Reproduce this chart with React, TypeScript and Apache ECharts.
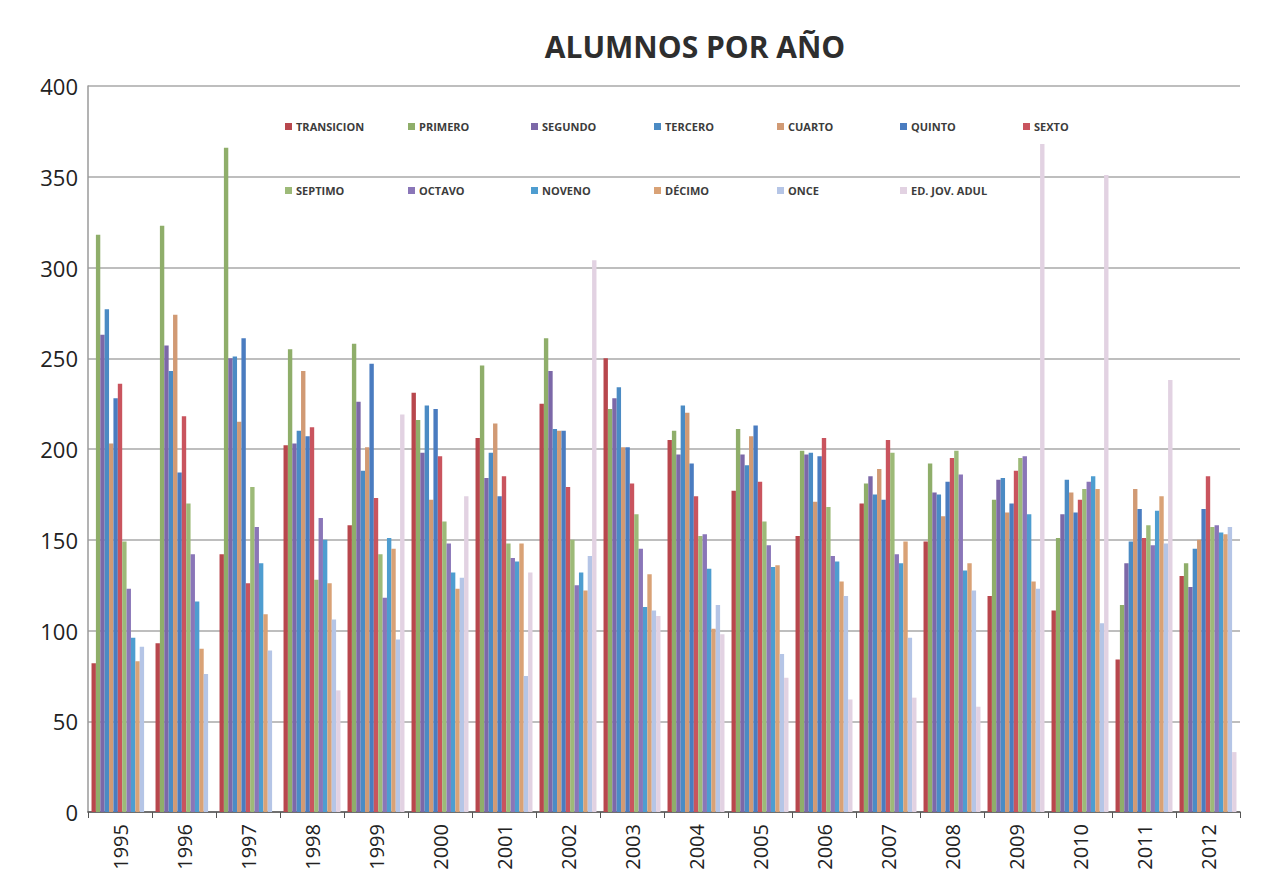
import React, { useEffect, useRef } from "react";
import * as echarts from "echarts";

// Years on the category axis
const years = [
  "1995", "1996", "1997", "1998", "1999", "2000", "2001", "2002", "2003",
  "2004", "2005", "2006", "2007", "2008", "2009", "2010", "2011", "2012",
];

// Students per grade, one value per year
const transicion = [82, 93, 142, 202, 158, 231, 206, 225, 250, 205, 177, 152, 170, 149, 119, 111, 84, 130];
const primero = [318, 323, 366, 255, 258, 216, 246, 261, 222, 210, 211, 199, 181, 192, 172, 151, 114, 137];
const segundo = [263, 257, 250, 203, 226, 198, 184, 243, 228, 197, 197, 197, 185, 176, 183, 164, 137, 124];
const tercero = [277, 243, 251, 210, 188, 224, 198, 211, 234, 224, 191, 198, 175, 175, 184, 183, 149, 145];
const cuarto = [203, 274, 215, 243, 201, 172, 214, 210, 201, 220, 207, 171, 189, 163, 165, 176, 178, 150];
const quinto = [228, 187, 261, 207, 247, 222, 174, 210, 201, 192, 213, 196, 172, 182, 170, 165, 167, 167];
const sexto = [236, 218, 126, 212, 173, 196, 185, 179, 181, 174, 182, 206, 205, 195, 188, 172, 151, 185];
const septimo = [149, 170, 179, 128, 142, 160, 148, 150, 164, 152, 160, 168, 198, 199, 195, 178, 158, 157];
const octavo = [123, 142, 157, 162, 118, 148, 140, 125, 145, 153, 147, 141, 142, 186, 196, 182, 147, 158];
const noveno = [96, 116, 137, 150, 151, 132, 138, 132, 113, 134, 135, 138, 137, 133, 164, 185, 166, 154];
const decimo = [83, 90, 109, 126, 145, 123, 148, 122, 131, 101, 136, 127, 149, 137, 127, 178, 174, 153];
const once = [91, 76, 89, 106, 95, 129, 75, 141, 111, 114, 87, 119, 96, 122, 123, 104, 148, 157];
const edJovAdul = [0, 0, 0, 67, 219, 174, 132, 304, 108, 98, 74, 62, 63, 58, 368, 351, 238, 33];

const seriesNames = [
  "TRANSICION", "PRIMERO", "SEGUNDO", "TERCERO", "CUARTO", "QUINTO", "SEXTO",
  "SEPTIMO", "OCTAVO", "NOVENO", "DÉCIMO", "ONCE", "ED. JOV. ADUL",
];
const seriesValues = [
  transicion, primero, segundo, tercero, cuarto, quinto, sexto,
  septimo, octavo, noveno, decimo, once, edJovAdul,
];
const seriesColors = [
  "#B8474D", "#8FAE6A", "#7C68A8", "#4B8BC4", "#D19A74", "#4A7CC0", "#C9545E",
  "#9DBA78", "#8A76B8", "#4E9DD0", "#D9A276", "#B5C5E6", "#E2D2E2",
];

const yTicks = { min: 0, max: 400, interval: 50 };

// Legend grid: seven entries per row, fixed column pitch
const LEGEND_PER_ROW = 7;
const LEGEND_LEFT = 285;
const LEGEND_PITCH = 123;
const LEGEND_TOPS = [121, 185];

export default function App() {
  const ref = useRef<HTMLDivElement>(null);

  useEffect(() => {
    if (!ref.current) return;
    const chart = echarts.init(ref.current, undefined, { renderer: "svg" });

    const legends = seriesNames.map((name, i) => ({
      data: [name],
      left: LEGEND_LEFT + (i % LEGEND_PER_ROW) * LEGEND_PITCH,
      top: LEGEND_TOPS[Math.floor(i / LEGEND_PER_ROW)],
      padding: 0,
      icon: "rect",
      itemWidth: 7,
      itemHeight: 7,
      textStyle: {
        fontFamily: "Open Sans, sans-serif",
        fontWeight: "bold",
        fontSize: 11,
        color: "#3c3c3c",
        padding: [0, 0, 0, -1],
      },
    }));

    chart.setOption({
      animation: false,
      backgroundColor: "#ffffff",
      color: seriesColors,
      title: {
        text: "ALUMNOS POR AÑO",
        left: 690,
        top: 26,
        textAlign: "center",
        textStyle: {
          fontFamily: "Open Sans, sans-serif",
          fontWeight: "bold",
          fontSize: 30,
          color: "#2e2e2e",
        },
      },
      legend: legends,
      grid: { left: 88, right: 30, top: 86, bottom: 79 },
      xAxis: {
        type: "category",
        data: years,
        axisLine: { lineStyle: { color: "#555555", width: 1.5 } },
        axisTick: { show: true, length: 6, lineStyle: { color: "#555555" } },
        axisLabel: {
          rotate: 90,
          margin: 12,
          fontFamily: "Open Sans, sans-serif",
          fontSize: 20,
          color: "#222222",
        },
      },
      yAxis: {
        type: "value",
        min: yTicks.min,
        max: yTicks.max,
        interval: yTicks.interval,
        axisLine: { show: true, lineStyle: { color: "#9a9a9a", width: 1.5 } },
        axisTick: { show: false },
        splitLine: { lineStyle: { color: "#a8a8a8", width: 1.5 } },
        axisLabel: {
          margin: 10,
          fontFamily: "Open Sans, sans-serif",
          fontSize: 22,
          color: "#222222",
        },
      },
      series: seriesNames.map((name, i) => ({
        name,
        type: "bar",
        data: seriesValues[i],
        barGap: "0%",
        barCategoryGap: "11%",
        itemStyle: { color: seriesColors[i] },
      })),
    });

    return () => chart.dispose();
  }, []);

  return (
    <div
      ref={ref}
      style={{ position: "absolute", left: 0, top: 0, width: 1270, height: 891 }}
    />
  );
}
